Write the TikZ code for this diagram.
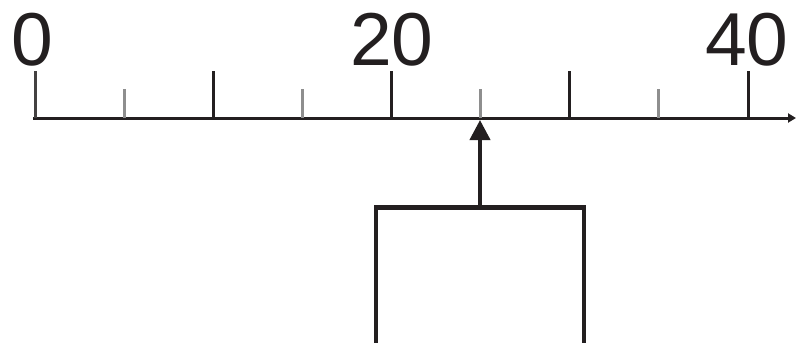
\documentclass[tikz,border=0pt]{standalone}
\usepackage{fontspec}
\setmainfont{Liberation Sans}
\usetikzlibrary{arrows.meta}
\definecolor{ink}{HTML}{231F20}
\definecolor{tickgray}{HTML}{8E8E8E}
\begin{document}
\begin{tikzpicture}[x=1pt,y=-1pt,
  axisline/.style={draw=ink,line width=3pt},
  bigtick/.style={draw=ink,line width=3pt},
  smalltick/.style={draw=tickgray,line width=3pt},
  numlabel/.style={anchor=base,inner sep=0pt,text=ink,font=\fontsize{75}{75}\selectfont},
  answerbox/.style={draw=ink,line width=4.5pt,minimum width=208pt,minimum height=160pt,anchor=north,inner sep=0pt},
  pointer/.style={draw=ink,line width=4pt,-{Triangle[width=20pt,length=20pt]}}]
\useasboundingbox (0,0) rectangle (796,343);
\clip (0,0) rectangle (796,343);
% axis
\coordinate (axstart) at (33,118);
\coordinate (axend) at (796,118);
\draw[axisline,-{Triangle[width=9pt,length=8pt]}] (axstart) -- (axend);
% ticks
\draw[draw=ink!85!white,line width=3pt] (35,118) -- (35,71);
\foreach \i in {2,4,6,8}{
  \draw[bigtick] ({35+89.125*\i},118) -- ({35+89.125*\i},71);
}
\foreach \i in {1,3,5,7}{
  \draw[smalltick] ({35+89.125*\i},118) -- ({35+89.125*\i},89);
}
% labels
\node[numlabel] (l0) at (32,65) {0};
\node[numlabel] (l20) at (392,65) {20};
\node[numlabel] (l40) at (747,65) {40};
% box and pointer
\node[answerbox] (box) at (480,205) {};
\coordinate (hit) at (480,120);
\draw[pointer] (box.north) -- (hit);
\end{tikzpicture}
\end{document}
